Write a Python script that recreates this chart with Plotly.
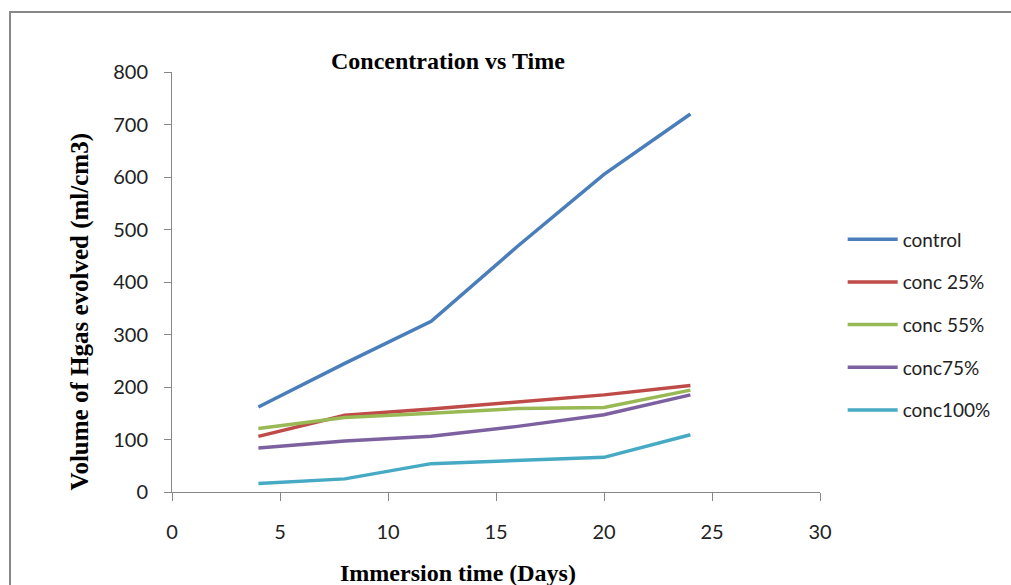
import plotly.graph_objects as go

days = [4, 8, 12, 16, 20, 24]
control = [162, 245, 325, 468, 605, 720]
conc25 = [106, 146, 158, 171, 185, 203]
conc55 = [121, 142, 150, 159, 161, 194]
conc75 = [84, 97, 106, 125, 147, 185]
conc100 = [16, 25, 54, 60, 66, 109]

series_names = ["control", "conc 25%", "conc 55%", "conc75%", "conc100%"]
series_values = [control, conc25, conc55, conc75, conc100]
colors = ["#4A7EBB", "#BE4B48", "#98B954", "#7D60A0", "#46AAC5"]

fig = go.Figure()
for i, (name, vals, col) in enumerate(zip(series_names, series_values, colors)):
    fig.add_trace(go.Scatter(
        x=days, y=vals, mode="lines", name=name,
        line=dict(color=col, width=3.5),
        legendgroup=f"g{i}",
    ))

tick_font = dict(family="Lato, Open Sans, sans-serif", size=20, color="#222")
serif_bold = dict(family="Liberation Serif, Times New Roman, serif", size=24, color="#000")
serif_bold_y = dict(family="Liberation Serif, Times New Roman, serif", size=25, color="#000")

fig.update_layout(
    width=1011, height=585,
    margin=dict(l=172, r=191, t=72, b=93),
    paper_bgcolor="white", plot_bgcolor="white",
    showlegend=True,
    legend=dict(
        x=1.035, y=0.398, xanchor="left", yanchor="middle",
        font=dict(family="Lato, Open Sans, sans-serif", size=19, color="#222"),
        traceorder="grouped", tracegroupgap=15, itemwidth=50,
        bgcolor="rgba(0,0,0,0)",
    ),
    xaxis=dict(
        range=[0, 30], tickvals=[0, 5, 10, 15, 20, 25, 30],
        showgrid=False, zeroline=False, showline=True,
        linecolor="#888", linewidth=1,
        ticks="outside", ticklen=8, tickcolor="#888",
        ticklabelstandoff=14, tickfont=tick_font,
    ),
    yaxis=dict(
        range=[0, 800], tickvals=[0, 100, 200, 300, 400, 500, 600, 700, 800],
        showgrid=False, zeroline=False, showline=True,
        linecolor="#888", linewidth=1,
        ticks="outside", ticklen=7, tickcolor="#888",
        ticklabelstandoff=12, tickfont=tick_font,
    ),
    annotations=[
        dict(text="<b>Concentration vs Time</b>", x=0.426, y=1.026,
             xref="paper", yref="paper", showarrow=False,
             xanchor="center", yanchor="middle", font=serif_bold),
        dict(text="<b>Immersion time (Days)</b>", x=0.441, y=-0.193,
             xref="paper", yref="paper", showarrow=False,
             xanchor="center", yanchor="middle", font=serif_bold),
        dict(text="<b>Volume of Hgas evolved (ml/cm3)</b>", x=-0.142, y=0.43,
             xref="paper", yref="paper", showarrow=False, textangle=-90,
             xanchor="center", yanchor="middle", font=serif_bold_y),
    ],
    shapes=[
        dict(type="rect", xref="paper", yref="paper",
             x0=-0.25, y0=-0.24, x1=1.31, y1=1.1429,
             line=dict(color="#888", width=2), fillcolor="rgba(0,0,0,0)",
             layer="below"),
    ],
)

fig.write_html("out.html")
